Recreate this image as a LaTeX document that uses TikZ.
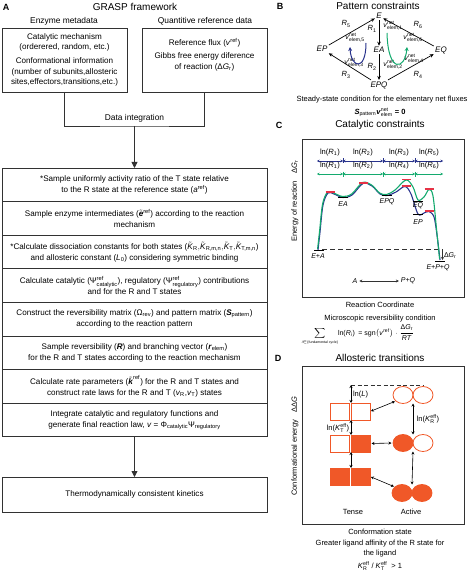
\documentclass[tikz,border=0pt]{standalone}
\usepackage{amsmath}
\usepackage{fontspec}
\setmainfont{Liberation Sans}
\usetikzlibrary{arrows.meta,shapes.geometric}
\definecolor{bluec}{RGB}{40,50,140}
\definecolor{greenc}{RGB}{20,170,110}
\definecolor{redc}{RGB}{230,50,70}
\definecolor{orc}{RGB}{240,88,40}
\definecolor{linec}{RGB}{50,50,50}
\newcommand{\vnetl}[1]{$\text{\textit{v}}^{\text{net}}_{\text{elem,#1}}$}
\newcommand{\tK}{\tilde{\text{\textit{K}}}}
\begin{document}
\begin{tikzpicture}[x=1pt,y=-1pt,
  every node/.style={inner sep=0pt,outer sep=0pt},
  ttl/.style={font=\fontsize{10}{12}\selectfont},
  plab/.style={font=\bfseries\fontsize{9}{10}\selectfont},
  hdr/.style={font=\fontsize{8.4}{10}\selectfont},
  abox/.style={draw=linec,line width=0.8pt,align=center,font=\fontsize{8.1}{11}\selectfont},
  atext/.style={align=center,font=\fontsize{8.1}{11}\selectfont},
  stepbox/.style={abox,minimum width=265,minimum height=33.6,anchor=north west},
  conn/.style={draw=linec,line width=0.8pt},
  bigtip/.style={-{Triangle[width=6pt,length=6pt]}},
  txt/.style={font=\fontsize{7.5}{10.5}\selectfont,align=center},
  st/.style={font=\itshape\fontsize{8}{9}\selectfont,inner sep=1.5pt},
  barr/.style={line width=0.7pt,-{Stealth[length=4pt,width=3.5pt]}},
  rl/.style={font=\fontsize{7.5}{9}\selectfont},
  vl/.style={font=\fontsize{7}{8}\selectfont},
  lnf/.style={font=\fontsize{7.6}{9}\selectfont},
  lnarr/.style={line width=0.6pt,{Stealth[length=2.5pt,width=2.5pt]}-{Stealth[length=2.5pt,width=2.5pt]}},
  cl/.style={font=\itshape\fontsize{7}{8}\selectfont},
  sq/.style={rectangle,draw=orc,line width=0.8pt,minimum width=19,minimum height=17},
  sqf/.style={sq,fill=orc},
  ci/.style={ellipse,draw=orc,line width=0.8pt,minimum width=20,minimum height=17},
  cif/.style={ci,fill=orc},
  darr/.style={line width=0.6pt,{Stealth[length=3pt,width=3pt]}-{Stealth[length=3pt,width=3pt]}},
  frame/.style={draw=linec,line width=0.8pt}
]
\useasboundingbox (0,0) rectangle (474,572);

% ---------------- Panel A ----------------
\node[plab] (la) at (6,7) {A};
\node[ttl] (ta) at (135,7) {GRASP framework};
\node[hdr] (h1) at (64,21) {Enzyme metadata};
\node[hdr] (h2) at (205,21) {Quantitive reference data};
\node[abox,minimum width=125,minimum height=64,anchor=north west,font=\fontsize{8.1}{10.5}\selectfont] (em) at (2,28)
 {Catalytic mechanism\\(orderered, random, etc.)\\[3.5pt]Conformational information\\(number of subunits,allosteric\\sites,effectors,transitions,etc.)};
\node[abox,minimum width=125,minimum height=64,anchor=north west] (rq) at (142,28) {};
\node[atext] (rqt) at (204.5,55) {Reference flux (\textit{v}\textsuperscript{ref})\\[2.5pt]Gibbs free energy diference\\of reaction (Δ\textit{G}\textsubscript{r})};
\coordinate (di) at (134.5,126);
\draw[conn] (em.south) |- (di) -| (rq.south);
\node[hdr] (dit) at (134.5,118) {Data integration};

\node[stepbox] (s1) at (2,168) {*Sample uniformly activity ratio of the T state relative\\to the R state at the reference state (\textit{a}\textsuperscript{ref})};
\node[stepbox] (s2) at (s1.south west) {Sample enzyme intermediates ($\tilde{\text{\textbf{\textit{e}}}}^{\text{ref}}$) according to the reaction\\mechanism};
\node[stepbox] (s3) at (s2.south west) {*Calculate dissociation constants for both states ($\tK_{\text{R}},\!\tK_{\text{R,m,n}},\!\tK_{\text{T}},\!\tK_{\text{T,m,n}}$)\\and allosteric constant (\textit{L}\textsubscript{0}) considering symmetric binding};
\node[stepbox] (s4) at (s3.south west) {Calculate catalytic ($\text{Ψ}^{\text{ref}}_{\text{catalytic}}$), regulatory ($\text{Ψ}^{\text{ref}}_{\text{regulatory}}$) contributions\\and for the R and T states};
\node[stepbox] (s5) at (s4.south west) {Construct the reversibility matrix ($\text{Ω}_{\text{rev}}$) and pattern matrix ($\text{\textbf{\textit{S}}}_{\text{pattern}}$)\\according to the reaction pattern};
\node[stepbox] (s6) at (s5.south west) {Sample reversibility (\textbf{\textit{R}}) and branching vector ($\text{\textbf{\textit{r}}}_{\text{elem}}$)\\for the R and T states according to the reaction mechanism};
\node[stepbox] (s7) at (s6.south west) {Calculate rate parameters ($\tilde{\text{\textbf{\textit{k}}}}^{\text{ref}}$) for the R and T states and\\construct rate laws for the R and T ($\text{\textit{v}}_{\text{R}}$,$\text{\textit{v}}_{\text{T}}$) states};
\node[stepbox] (s8) at (s7.south west) {Integrate catalytic and regulatory functions and\\generate final reaction law, \textit{v} = $\text{Φ}_{\text{catalytic}}\text{Ψ}_{\text{regulatory}}$};
\node[stepbox,minimum height=35] (fin) at (2,477) {Thermodynamically consistent kinetics};
\draw[conn,bigtip] (di) -- (s1.north);
\draw[conn,bigtip] (s8.south) -- (fin.north);

% ---------------- Panel B ----------------
\node[plab] (lb) at (280,6) {B};
\node[ttl] (tb) at (378,6) {Pattern constraints};
\node[st] (E) at (379,16) {E};
\node[st] (EP) at (322,49) {EP};
\node[st] (EA) at (379,50) {EA};
\node[st] (EQ) at (441,50) {EQ};
\node[st] (EPQ) at (379,85) {EPQ};
\draw[barr] (E) -- (EA);
\draw[barr] (EA) -- (EPQ);
\draw[barr] (EPQ) -- (EP);
\draw[barr] (EPQ) -- (EQ);
\draw[barr] (EP) -- (E);
\draw[barr] (EQ) -- (E);
\node[rl] (r5) at (346,24) {\textit{R}\textsubscript{5}};
\node[rl] (r1) at (372,29) {\textit{R}\textsubscript{1}};
\node[rl] (r6) at (418,25) {\textit{R}\textsubscript{6}};
\node[rl] (r3) at (346,75) {\textit{R}\textsubscript{3}};
\node[rl] (r2) at (372,67) {\textit{R}\textsubscript{2}};
\node[rl] (r4) at (418,75) {\textit{R}\textsubscript{4}};
\node[vl] (v1) at (393,26) {\vnetl{1}};
\node[vl] (v5) at (355,38) {\vnetl{5}};
\node[vl] (v6) at (413,38) {\vnetl{6}};
\node[vl] (v3) at (354,63) {\vnetl{3}};
\node[vl] (v2) at (393,65) {\vnetl{2}};
\node[vl] (v4) at (414,59) {\vnetl{4}};
\draw[bluec,line width=1pt,-{Stealth[length=4pt,width=4pt]}] (366,43) .. controls (366,72) and (351,68) .. (350,47);
\draw[greenc,line width=1pt,-{Stealth[length=4pt,width=4pt]}] (387,33) .. controls (388,74) and (405,70) .. (407,47);
\node[txt] (ssc) at (382,100) {Steady-state condition for the elementary net fluxes};
\node[txt] (sse) at (380,112) {$\text{\textbf{\textit{S}}}_{\text{pattern}}\text{\textbf{\textit{v}}}^{\text{net}}_{\text{elem}}$\textbf{ = 0}};

% ---------------- Panel C ----------------
\node[plab] (lc) at (279,125) {C};
\node[ttl] (tc) at (380,125) {Catalytic constraints};
\draw[frame] (302,139) rectangle (464,297);
\node[txt,rotate=90] (cy) at (295,201) {Energy of reaction\quad Δ\textit{G}\textsubscript{r}};
\foreach \a/\b/\l in {317/343/1,343/383/2,383/415/3,415/443/5}{
  \draw[bluec,lnarr] (\a,161) -- (\b,161);
  \node[lnf] (bl\l) at ({(\a+\b)/2},153) {ln(\textit{R}\textsubscript{\l})};
}
\foreach \a/\b/\l in {317/343/1,343/383/2,383/415/4,415/443/6}{
  \draw[greenc,lnarr] (\a,174) -- (\b,174);
  \node[lnf] (gl\l) at ({(\a+\b)/2},166) {ln(\textit{R}\textsubscript{\l})};
}
\foreach \x in {343,383,415}{
  \draw[bluec,line width=0.6pt] (\x,158.5) -- (\x,163.5);
  \draw[greenc,line width=0.6pt] (\x,171.5) -- (\x,176.5);
}
\draw[linec,line width=0.7pt,dash pattern=on 5pt off 3pt] (322,249) -- (440,249);
\draw[bluec,line width=1.1pt] plot[smooth,tension=0.55] coordinates {(318,250) (320,232) (323,205) (328,193) (334,194) (343,197.5) (352,195) (363,183.5) (372,186) (380,194) (387,195.5) (396,192) (405,186.5) (411,194) (418,214) (424,213) (429,211.5) (434,217) (437,235) (440,260)};
\draw[greenc,line width=1.1pt] plot[smooth,tension=0.55] coordinates {(317.6,249) (319.6,231) (322.6,204) (327.6,192) (333.6,193) (342.6,196.5) (351.6,194) (362.6,182.5) (371.6,185) (379.6,193) (386.6,194.5) (395,190) (406,180) (413,187) (418,200) (424,197) (429,189.5) (433,196) (436.6,230) (439.6,259)};
\foreach \x/\y in {330/192,363.5/183,406.5/179.5,429/189,406/186,429/211}{
  \draw[redc,line width=1.2pt] (\x-4.5,\y) -- (\x+4.5,\y);
}
\foreach \x/\y in {319/250,343/197.5,387/195.5,418/201,418/214,440/261}{
  \draw[black,line width=1pt] (\x-5,\y) -- (\x+5,\y);
}
\node[cl] (cea) at (343,204) {EA};
\node[cl] (cepq) at (387,202) {EPQ};
\node[cl] (ceq) at (418,206) {EQ};
\node[cl] (cep) at (418,222) {EP};
\node[cl] (cepa) at (318,256) {E+A};
\node[cl] (cepqf) at (438,268) {E+P+Q};
\draw[linec,line width=0.6pt,-{Stealth[length=3pt,width=3pt]}] (442.5,249) -- (442.5,260);
\node[font=\fontsize{7}{8}\selectfont,anchor=west] (cdg) at (444,256) {Δ\textit{G}\textsubscript{r}};
\node[cl] (ca) at (355,281) {A};
\node[cl] (cpq) at (408,281) {P+Q};
\draw[linec,line width=0.6pt,{Stealth[length=3pt,width=3pt]}-{Stealth[length=3pt,width=3pt]},shorten <=2pt,shorten >=2pt] (ca.east) -- (cpq.west);
\node[txt] (crc) at (380,305) {Reaction Coordinate};
\node[txt] (cmr) at (380,319) {Microscopic reversibility condition};
\node[font=\fontsize{7}{9}\selectfont] (cf) at (358,335) {$\displaystyle\sum\limits_{\text{\fontsize{3.5}{4}\selectfont\textit{i}$\in$\{fundamental cycle\}}}$ln(\textit{R}\textsubscript{\textit{i}})\enspace = sgn$\bigl($\textit{v}\textsuperscript{ref}$\bigr)\cdot\dfrac{\text{Δ\textit{G}}_{\text{r}}}{\text{\textit{RT}}}$};

% ---------------- Panel D ----------------
\node[plab] (ld) at (278,358) {D};
\node[ttl] (td) at (380,358) {Allosteric transitions};
\draw[frame] (302,366) rectangle (464,524);
\node[txt,rotate=90] (dy) at (295,446) {Conformational energy\quad ΔΔ\textit{G}};
\node[sq] (sqTL) at (339.5,411.5) {};
\node[sq] (sqTR) at (360.5,411.5) {};
\node[sq] (sqML) at (339.5,443.5) {};
\node[sqf] (sqMR) at (360.5,443.5) {};
\node[sqf] (sqBL) at (339.5,476.5) {};
\node[sqf] (sqBR) at (360.5,476.5) {};
\node[ci] (cTL) at (403,395) {};
\node[ci] (cTR) at (423,395) {};
\node[cif] (cML) at (403,443) {};
\node[ci] (cMR) at (423,443) {};
\node[cif] (cBL) at (402,493) {};
\node[cif] (cBR) at (422,493) {};
\coordinate (dtop) at (351,385);
\draw[linec,line width=0.7pt,dash pattern=on 4pt off 2.5pt] (dtop) -- (dtop -| cTR.north);
\draw[darr] (dtop) -- (sqTR.north west);
\draw[darr] (sqTR.south west) -- (sqMR.north west);
\draw[darr] (sqMR.south west) -- (sqBR.north west);
\draw[darr,shorten <=1pt,shorten >=1pt] (cTL.south west) -- (sqTR.east);
\draw[darr,shorten <=1.5pt,shorten >=1.5pt] (sqMR.east) -- (cML.west);
\draw[darr,shorten <=1pt,shorten >=1pt] (sqBR.east) -- (cBL.north west);
\draw[darr] (cTL.south -| cTR.west) -- (cML.north -| cMR.west);
\draw[darr] (cML.south -| cMR.west) -- (cBL.north -| cBR.west);
\node[font=\fontsize{7.5}{9}\selectfont,anchor=west] (dlnl) at (353,395) {ln(\textit{L})};
\node[font=\fontsize{7.5}{9}\selectfont] (dlnt) at (338,428) {ln($\text{\textit{K}}^{\text{eff}}_{\text{T}}$)};
\node[font=\fontsize{7.5}{9}\selectfont] (dlnr) at (428,419) {ln($\text{\textit{K}}^{\text{eff}}_{\text{R}}$)};
\node[txt] (dte) at (353,512) {Tense};
\node[txt] (dac) at (411,512) {Active};
\node[txt] (dcs) at (380,532) {Conformation state};
\node[txt] (dga) at (380,548.5) {Greater ligand affinity of the R state for\\the ligand};
\node[txt] (dkr) at (380,566) {$\text{\textit{K}}^{\text{eff}}_{\text{R}}$ / $\text{\textit{K}}^{\text{eff}}_{\text{T}}$\ \ {>} 1};
\end{tikzpicture}
\end{document}
